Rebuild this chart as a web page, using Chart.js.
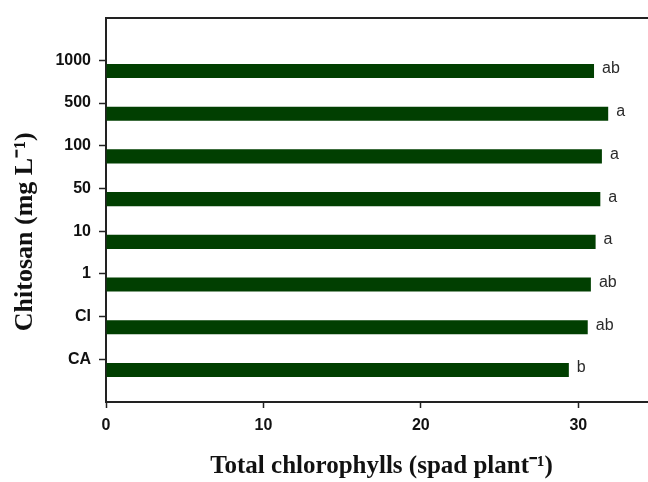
<!DOCTYPE html>
<html><head><meta charset="utf-8">
<script src="https://cdn.jsdelivr.net/npm/chart.js@4/dist/chart.umd.min.js"></script>
<style>
html,body{margin:0;padding:0;background:#fff;overflow:hidden;}
#wrap{width:648px;height:482px;overflow:hidden;position:relative;background:#fff;}
canvas{display:block;}
</style></head><body>
<div id="wrap"><canvas id="c" width="660" height="482"></canvas></div>
<script>
const categories = ['1000', '500', '100', '50', '10', '1', 'CI', 'CA'];
const chlorophyll = [31.0, 31.9, 31.5, 31.4, 31.1, 30.8, 30.6, 29.4];
const letters = ['ab', 'a', 'a', 'a', 'a', 'ab', 'ab', 'b'];
const xTicks = [0, 10, 20, 30];
const xTitle = 'Total chlorophylls (spad plant\u207B\u00B9)';
const yTitle = 'Chitosan (mg L\u207B\u00B9)';

const slots = categories.map((_, i) => i + 1);
const lineCol = '#222';
const barCol = '#013f01';

const letterPlugin = {
  id: 'letters',
  afterDatasetsDraw(chart) {
    const meta = chart.getDatasetMeta(1);
    const c = chart.ctx;
    c.save();
    c.font = '16px "Liberation Sans", Arial, sans-serif';
    c.fillStyle = '#2a2a2a';
    c.textAlign = 'left';
    c.textBaseline = 'middle';
    meta.data.forEach((bar, i) => {
      c.fillText(letters[i], bar.x + 8, bar.y - 2);
    });
    c.restore();
  }
};

const yTitlePlugin = {
  id: 'yTitle',
  afterDraw(chart) {
    const c = chart.ctx;
    const a = chart.chartArea;
    c.save();
    c.translate(25, (a.top + a.bottom) / 2 + 22);
    c.rotate(-Math.PI / 2);
    c.font = 'bold 26px "Liberation Serif", "Times New Roman", serif';
    c.fillStyle = '#111';
    c.textAlign = 'center';
    c.textBaseline = 'middle';
    c.fillText(yTitle, 0, 0);
    c.restore();
  }
};

const tickFont = { family: '"Liberation Sans", Arial, sans-serif', size: 16, weight: 'bold' };

new Chart(document.getElementById('c'), {
  type: 'bar',
  data: {
    datasets: [
      { label: 'spacer', data: [], stack: 's0', backgroundColor: 'rgba(0,0,0,0)' },
      {
        label: 'Total chlorophylls',
        data: slots.map((s, i) => ({ x: chlorophyll[i], y: s })),
        stack: 's1',
        backgroundColor: barCol,
        borderWidth: 0,
        categoryPercentage: 1.0,
        barPercentage: 0.66
      }
    ]
  },
  options: {
    indexAxis: 'y',
    responsive: false,
    animation: false,
    devicePixelRatio: 1,
    layout: { padding: { top: 17, right: 3, bottom: 0, left: 0 } },
    plugins: { legend: { display: false }, tooltip: { enabled: false } },
    scales: {
      x: {
        type: 'linear', position: 'bottom', min: 0, max: 35, offset: false,
        afterBuildTicks: s => { s.ticks = xTicks.map(v => ({ value: v })); },
        afterFit: s => { s.height = 80; },
        ticks: { font: tickFont, color: '#111', padding: 8, maxRotation: 0 },
        grid: { display: true, offset: false, drawOnChartArea: false, tickLength: 6, color: lineCol, tickWidth: 1.5 },
        border: { display: true, color: lineCol, width: 2 },
        title: {
          display: true, text: xTitle, color: '#111',
          font: { family: '"Liberation Serif", "Times New Roman", serif', size: 25, weight: 'bold' },
          padding: { top: 0, bottom: 0 }
        }
      },
      xTop: {
        type: 'linear', position: 'top', min: 0, max: 35, offset: false,
        ticks: { display: false },
        grid: { display: false, drawTicks: false },
        border: { display: true, color: lineCol, width: 2 }
      },
      y: {
        type: 'linear', position: 'left', reverse: true, min: 0, max: 9, offset: false,
        afterBuildTicks: s => { s.ticks = slots.map(v => ({ value: v })); },
        afterFit: s => { s.width = 106; },
        ticks: {
          font: tickFont, color: '#111', padding: 8,
          callback: v => categories[v - 1] ?? ''
        },
        grid: { display: true, offset: false, drawOnChartArea: false, tickLength: 7, color: lineCol, tickWidth: 1.5 },
        border: { display: true, color: lineCol, width: 2 }
      }
    }
  },
  plugins: [letterPlugin, yTitlePlugin]
});
</script>
</body></html>
